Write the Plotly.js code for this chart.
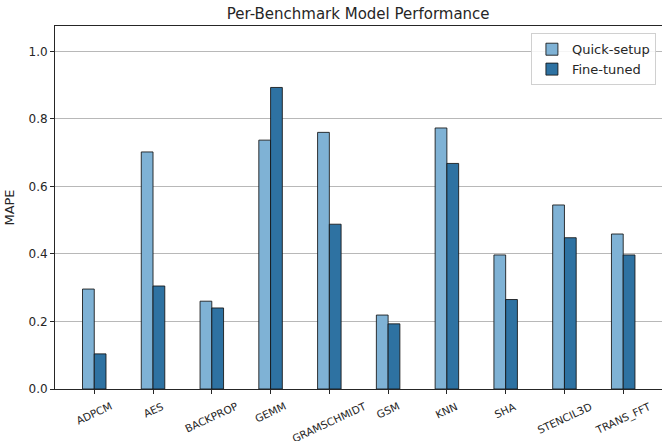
<!DOCTYPE html>
<html><head><meta charset="utf-8">
<script src="https://cdn.plot.ly/plotly-3.0.1.min.js"></script>
<style>html,body{margin:0;padding:0;background:#fff;}#chart{width:662px;height:441px;}</style>
</head><body><div id="chart"></div>
<script>
const benchmarks = ["ADPCM","AES","BACKPROP","GEMM","GRAMSCHMIDT","GSM","KNN","SHA","STENCIL3D","TRANS_FFT"];
const quickSetup = [0.296,0.702,0.260,0.737,0.760,0.219,0.773,0.397,0.545,0.459];
const fineTuned  = [0.104,0.305,0.240,0.893,0.488,0.193,0.668,0.265,0.448,0.397];
const yTicks = [0.0,0.2,0.4,0.6,0.8,1.0];

const font = "DejaVu Sans, sans-serif";
const traces = [
  {type:"bar", name:"Quick-setup", x:benchmarks, y:quickSetup,
   marker:{color:"#7fb2d5", line:{color:"rgba(20,20,20,0.85)", width:1}}},
  {type:"bar", name:"Fine-tuned", x:benchmarks, y:fineTuned,
   marker:{color:"#2e72a2", line:{color:"rgba(20,20,20,0.85)", width:1}}}
];
const tickAnnotations = benchmarks.map(b => ({
  x:b, xref:"x", y:0, yref:"paper", yshift:-8,
  text:b, textangle:-25, showarrow:false,
  xanchor:"center", yanchor:"top",
  font:{family:font, size:10.5, color:"#262626"}
}));
const layout = {
  width:662, height:441,
  margin:{l:55, r:0, t:26, b:52},
  paper_bgcolor:"#fff", plot_bgcolor:"#fff",
  barmode:"group", bargap:0.6, bargroupgap:0,
  font:{family:font, color:"#262626", size:12},
  title:{text:"Per-Benchmark Model Performance", font:{family:font, size:15, color:"#262626"},
         x:0.541, xanchor:"center", y:0.968, yanchor:"middle"},
  xaxis:{type:"category", range:[-0.668, 9.66], showticklabels:false,
         ticks:"outside", ticklen:4, tickcolor:"#262626", tickwidth:1,
         showline:true, linecolor:"#262626", linewidth:1, mirror:true,
         showgrid:false, zeroline:false},
  yaxis:{range:[0,1.075], tickvals:yTicks, ticktext:yTicks.map(v=>v.toFixed(1)),
         tickfont:{family:font, size:12, color:"#262626"},
         ticks:"outside", ticklen:4, tickcolor:"#262626", tickwidth:1,
         showline:true, linecolor:"#262626", linewidth:1, mirror:true,
         showgrid:true, gridcolor:"#b8b8b8", gridwidth:1, zeroline:false,
         title:{text:"MAPE", font:{family:font, size:13, color:"#262626"}, standoff:10}},
  annotations:tickAnnotations,
  showlegend:true,
  legend:{x:0.99, xanchor:"right", y:0.98, yanchor:"top",
          bgcolor:"rgba(255,255,255,0.85)", bordercolor:"#d0d0d0", borderwidth:1,
          font:{family:font, size:13, color:"#262626"}, tracegroupgap:0, itemwidth:30}
};
Plotly.newPlot("chart", traces, layout, {displayModeBar:false, staticPlot:true});
</script>
</body></html>
